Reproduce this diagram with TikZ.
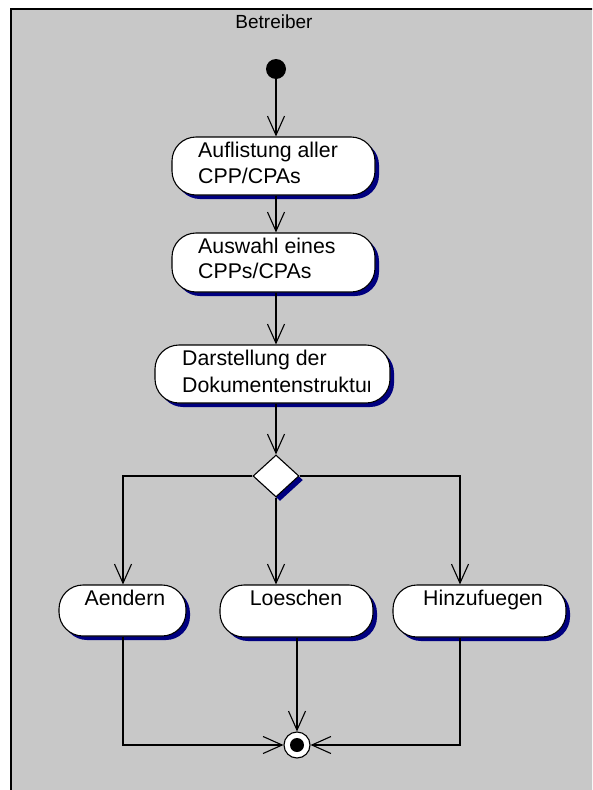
\documentclass[tikz,border=0pt]{standalone}
\usepackage{fontspec}
\setmainfont{Liberation Sans}
\usetikzlibrary{shapes.geometric,arrows.meta,shadows}
\definecolor{lane}{RGB}{200,200,200}
\definecolor{shade}{RGB}{0,0,128}
\begin{document}
\begin{tikzpicture}[x=1pt,y=-1pt,
  flow/.style={draw, line width=1.1pt, -{Straight Barb[length=19pt,width=17pt,line width=1.1pt]}},
  activity/.style={draw, line width=1.1pt, fill=white, rounded corners=24pt,
    general shadow={fill=shade, shadow xshift=4pt, shadow yshift=-4pt}},
  boxtext/.style={font=\fontsize{21.3}{27}\selectfont, inner sep=0pt, anchor=base west},
  boxlabel/.style={font=\fontsize{21.3}{27}\selectfont, inner sep=0pt, anchor=base},
  decision/.style={diamond, draw, line width=1.1pt, fill=white, inner sep=0pt,
    minimum width=46pt, minimum height=42pt,
    general shadow={fill=shade, shadow xshift=4pt, shadow yshift=-4pt}},
  initial/.style={circle, fill=black, inner sep=0pt, minimum size=20pt},
  final/.style={circle, draw, line width=1.1pt, fill=white, inner sep=0pt, minimum size=26pt,
    path picture={\fill[black] (path picture bounding box.center) circle (7pt);}}
]
\useasboundingbox (0,0) rectangle (592,790);
\clip (0,0) rectangle (592,790);
\fill[white] (0,0) rectangle (592,790);

% swimlane
\fill[lane] (11,8.5) rectangle (600,800);
\draw[line width=2pt] (11,800) -- (11,8.5) -- (600,8.5);
\node[font=\fontsize{19}{23}\selectfont, inner sep=0pt] (lanename) at (274,22) {Betreiber};

% activities
\node[initial] (start) at (276,69) {};

\node[activity, minimum width=203pt, minimum height=58pt] (list) at (273.5,166) {};
\node[boxtext] (list1) at (198,157) {Auflistung aller};
\node[boxtext] (list2) at (198,183) {CPP/CPAs};

\node[activity, minimum width=203pt, minimum height=59pt] (pick) at (273.5,262.5) {};
\node[boxtext] (pick1) at (198,253) {Auswahl eines};
\node[boxtext] (pick2) at (198,278) {CPPs/CPAs};

\node[activity, minimum width=235pt, minimum height=58pt] (show) at (272.5,374) {};
\begin{scope}
  \clip (150,340) rectangle (369,410);
  \node[boxtext] (show1) at (182,365) {Darstellung der};
  \node[boxtext] (show2) at (182,392) {Dokumentenstruktur};
\end{scope}

\node[decision] (choice) at (276,476) {};

\node[activity, minimum width=127pt, minimum height=51pt] (edit) at (122.5,610.5) {};
\node[boxlabel] (edit1) at (125,605) {Aendern};

\node[activity, minimum width=153pt, minimum height=52pt] (del) at (296.5,611) {};
\node[boxlabel] (del1) at (296,605) {Loeschen};

\node[activity, minimum width=173pt, minimum height=52pt] (add) at (479.5,611) {};
\node[boxlabel] (add1) at (483,605) {Hinzufuegen};

\node[final] (end) at (297,745) {};

% lanes of the branches
\coordinate (editx) at (123,0);
\coordinate (addx) at (460,0);

% transitions
\draw[flow] (start) -- (start |- list.north);
\draw[flow] (start |- list.south) -- (start |- pick.north);
\draw[flow] (start |- pick.south) -- (start |- show.north);
\draw[flow] (start |- show.south) -- (choice.north);
\draw[flow] (choice.west) -| (editx |- edit.north);
\draw[flow] (choice.south) -- (choice.south |- del.north);
\draw[flow] (choice.east) -| (addx |- add.north);
\draw[flow] (editx |- edit.south) |- (end.west);
\draw[flow] (end |- del.south) -- (end.north);
\draw[flow] (addx |- add.south) |- (end.east);
\end{tikzpicture}
\end{document}
